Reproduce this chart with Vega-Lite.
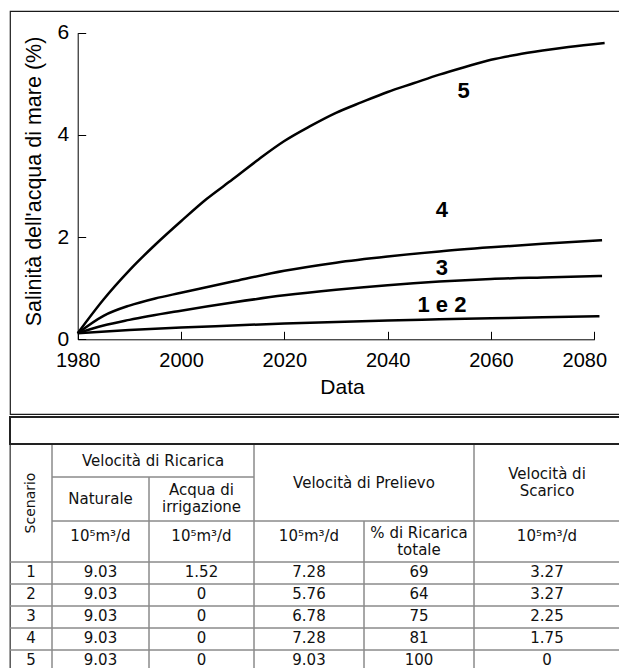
{
  "$schema": "https://vega.github.io/schema/vega-lite/v6.json",
  "padding": {"left": 8, "top": 10, "right": 0, "bottom": 0},
  "spacing": 0,
  "background": "white",
  "config": {
    "view": {"stroke": "#1a1a1a", "strokeWidth": 1.2},
    "font": "Liberation Sans",
    "concat": {"spacing": 0}
  },
  "datasets": {
    "curve": [
      {"scenario": "5", "anno": 1980, "salinita": 0.12},
      {"scenario": "5", "anno": 1985, "salinita": 0.78},
      {"scenario": "5", "anno": 1990, "salinita": 1.35},
      {"scenario": "5", "anno": 1995, "salinita": 1.85},
      {"scenario": "5", "anno": 2000, "salinita": 2.31},
      {"scenario": "5", "anno": 2005, "salinita": 2.75},
      {"scenario": "5", "anno": 2010, "salinita": 3.13},
      {"scenario": "5", "anno": 2015, "salinita": 3.52},
      {"scenario": "5", "anno": 2020, "salinita": 3.88},
      {"scenario": "5", "anno": 2025, "salinita": 4.17},
      {"scenario": "5", "anno": 2030, "salinita": 4.43},
      {"scenario": "5", "anno": 2035, "salinita": 4.64},
      {"scenario": "5", "anno": 2040, "salinita": 4.84},
      {"scenario": "5", "anno": 2045, "salinita": 5.01},
      {"scenario": "5", "anno": 2050, "salinita": 5.18},
      {"scenario": "5", "anno": 2055, "salinita": 5.33},
      {"scenario": "5", "anno": 2060, "salinita": 5.47},
      {"scenario": "5", "anno": 2065, "salinita": 5.57},
      {"scenario": "5", "anno": 2070, "salinita": 5.65},
      {"scenario": "5", "anno": 2075, "salinita": 5.72},
      {"scenario": "5", "anno": 2082, "salinita": 5.8},
      {"scenario": "4", "anno": 1980, "salinita": 0.12},
      {"scenario": "4", "anno": 1985, "salinita": 0.46},
      {"scenario": "4", "anno": 1990, "salinita": 0.66},
      {"scenario": "4", "anno": 1995, "salinita": 0.8},
      {"scenario": "4", "anno": 2000, "salinita": 0.91},
      {"scenario": "4", "anno": 2010, "salinita": 1.13},
      {"scenario": "4", "anno": 2020, "salinita": 1.34},
      {"scenario": "4", "anno": 2030, "salinita": 1.5},
      {"scenario": "4", "anno": 2040, "salinita": 1.62},
      {"scenario": "4", "anno": 2050, "salinita": 1.72},
      {"scenario": "4", "anno": 2060, "salinita": 1.8},
      {"scenario": "4", "anno": 2070, "salinita": 1.87},
      {"scenario": "4", "anno": 2081.5, "salinita": 1.94},
      {"scenario": "3", "anno": 1980, "salinita": 0.12},
      {"scenario": "3", "anno": 1985, "salinita": 0.27},
      {"scenario": "3", "anno": 1990, "salinita": 0.38},
      {"scenario": "3", "anno": 2000, "salinita": 0.56},
      {"scenario": "3", "anno": 2010, "salinita": 0.72},
      {"scenario": "3", "anno": 2020, "salinita": 0.86},
      {"scenario": "3", "anno": 2030, "salinita": 0.97},
      {"scenario": "3", "anno": 2040, "salinita": 1.06},
      {"scenario": "3", "anno": 2050, "salinita": 1.13},
      {"scenario": "3", "anno": 2060, "salinita": 1.18},
      {"scenario": "3", "anno": 2070, "salinita": 1.21},
      {"scenario": "3", "anno": 2081.5, "salinita": 1.24},
      {"scenario": "1 e 2", "anno": 1980, "salinita": 0.12},
      {"scenario": "1 e 2", "anno": 1990, "salinita": 0.18},
      {"scenario": "1 e 2", "anno": 2000, "salinita": 0.23},
      {"scenario": "1 e 2", "anno": 2010, "salinita": 0.27},
      {"scenario": "1 e 2", "anno": 2020, "salinita": 0.31},
      {"scenario": "1 e 2", "anno": 2030, "salinita": 0.34},
      {"scenario": "1 e 2", "anno": 2040, "salinita": 0.37},
      {"scenario": "1 e 2", "anno": 2050, "salinita": 0.39},
      {"scenario": "1 e 2", "anno": 2060, "salinita": 0.41},
      {"scenario": "1 e 2", "anno": 2070, "salinita": 0.43},
      {"scenario": "1 e 2", "anno": 2081, "salinita": 0.45}
    ],
    "etichette": [
      {"testo": "5", "anno": 2054.7, "salinita": 4.86},
      {"testo": "4", "anno": 2050.5, "salinita": 2.54},
      {"testo": "3", "anno": 2050.5, "salinita": 1.4},
      {"testo": "1 e 2", "anno": 2050.5, "salinita": 0.67}
    ],
    "tabella": [
      {"Scenario": 1, "Naturale": 9.03, "Irrigazione": 1.52, "Prelievo": 7.28, "Ricarica_totale": 69, "Scarico": 3.27},
      {"Scenario": 2, "Naturale": 9.03, "Irrigazione": 0, "Prelievo": 5.76, "Ricarica_totale": 64, "Scarico": 3.27},
      {"Scenario": 3, "Naturale": 9.03, "Irrigazione": 0, "Prelievo": 6.78, "Ricarica_totale": 75, "Scarico": 2.25},
      {"Scenario": 4, "Naturale": 9.03, "Irrigazione": 0, "Prelievo": 7.28, "Ricarica_totale": 81, "Scarico": 1.75},
      {"Scenario": 5, "Naturale": 9.03, "Irrigazione": 0, "Prelievo": 9.03, "Ricarica_totale": 100, "Scarico": 0}
    ],
    "colonne": [
      {"campo": "Scenario", "x0": 0, "x1": 42},
      {"campo": "Naturale", "x0": 42, "x1": 139},
      {"campo": "Irrigazione", "x0": 139, "x1": 244},
      {"campo": "Prelievo", "x0": 244, "x1": 354},
      {"campo": "Ricarica_totale", "x0": 354, "x1": 464},
      {"campo": "Scarico", "x0": 464, "x1": 610}
    ],
    "righe": [
      {"Scenario": 1, "y0": 145, "y1": 167},
      {"Scenario": 2, "y0": 167, "y1": 189},
      {"Scenario": 3, "y0": 189, "y1": 211},
      {"Scenario": 4, "y0": 211, "y1": 233},
      {"Scenario": 5, "y0": 233, "y1": 255}
    ],
    "intestazioni": [
      {"testo": "", "tipo": "titolo", "x0": 0, "x1": 610, "y0": 0, "y1": 27},
      {"testo": "Scenario", "tipo": "verticale", "x0": 0, "x1": 42, "y0": 27, "y1": 145},
      {"testo": "Velocità di Ricarica", "tipo": "riga", "x0": 42, "x1": 244, "y0": 27, "y1": 60},
      {"testo": "Naturale", "tipo": "riga", "x0": 42, "x1": 139, "y0": 60, "y1": 104},
      {"testo": "Acqua di\nirrigazione", "tipo": "due righe", "x0": 139, "x1": 244, "y0": 60, "y1": 104},
      {"testo": "10⁵m³/d", "tipo": "unità", "x0": 42, "x1": 139, "y0": 104, "y1": 145},
      {"testo": "10⁵m³/d", "tipo": "unità", "x0": 139, "x1": 244, "y0": 104, "y1": 145},
      {"testo": "Velocità di Prelievo", "tipo": "riga", "x0": 244, "x1": 464, "y0": 27, "y1": 104},
      {"testo": "10⁵m³/d", "tipo": "unità", "x0": 244, "x1": 354, "y0": 104, "y1": 145},
      {"testo": "% di Ricarica\ntotale", "tipo": "due righe", "x0": 354, "x1": 464, "y0": 104, "y1": 145},
      {"testo": "Velocità di\nScarico", "tipo": "due righe", "x0": 464, "x1": 610, "y0": 27, "y1": 104},
      {"testo": "10⁵m³/d", "tipo": "unità", "x0": 464, "x1": 610, "y0": 104, "y1": 145}
    ]
  },
  "vconcat": [
    {
      "width": 610,
      "height": 403,
      "layer": [
        {
          "data": {"name": "curve"},
          "mark": {"type": "line", "color": "black", "strokeWidth": 2.5, "interpolate": "monotone"},
          "encoding": {
            "x": {
              "field": "anno", "type": "quantitative",
              "scale": {"domain": [1980, 2080], "range": [67.7, 584.3], "nice": false, "zero": false},
              "axis": {
                "values": [1980, 2000, 2020, 2040, 2060, 2080],
                "format": "d",
                "offset": -74.7,
                "tickSize": -8,
                "labelPadding": 19.5,
                "grid": false,
                "domainColor": "black",
                "tickColor": "black",
                "labelColor": "black",
                "labelFont": "Liberation Sans",
                "labelFontSize": 20,
                "labelFlush": false,
                "labelOverlap": false,
                "labelOffset": {"condition": {"test": "datum.value === 2080", "value": -10}, "value": 0},
                "title": "Data",
                "titleFont": "Liberation Sans",
                "titleFontSize": 21,
                "titleFontWeight": "normal",
                "titleColor": "black",
                "titleX": 332,
                "titleY": 54,
                "titleAlign": "center",
                "titleBaseline": "alphabetic"
              }
            },
            "y": {
              "field": "salinita", "type": "quantitative",
              "scale": {"domain": [0, 6], "range": [328.3, 21.7], "nice": false},
              "axis": {
                "values": [0, 2, 4, 6],
                "format": "d",
                "offset": -67.7,
                "tickSize": -8,
                "labelPadding": 17,
                "grid": false,
                "domainColor": "black",
                "tickColor": "black",
                "labelColor": "black",
                "labelFont": "Liberation Sans",
                "labelFontSize": 21,
                "labelFlush": false,
                "labelOverlap": false,
                "title": "Salinità dell'acqua di mare (%)",
                "titleFont": "Liberation Sans",
                "titleFontSize": 21.5,
                "titleFontWeight": "normal",
                "titleColor": "black",
                "titleAngle": 270,
                "titleX": -37,
                "titleY": 170,
                "titleAlign": "center",
                "titleBaseline": "alphabetic"
              }
            },
            "detail": {"field": "scenario", "type": "nominal"}
          }
        },
        {
          "data": {"name": "etichette"},
          "mark": {"type": "text", "font": "Liberation Sans", "fontSize": 22, "fontWeight": "bold", "color": "black", "align": "center", "baseline": "middle"},
          "encoding": {
            "x": {"field": "anno", "type": "quantitative"},
            "y": {"field": "salinita", "type": "quantitative"},
            "text": {"field": "testo", "type": "nominal"}
          }
        }
      ]
    },
    {
      "width": 610,
      "height": 256,
      "encoding": {
        "x": {"field": "x0", "type": "quantitative", "scale": {"domain": [0, 610], "nice": false, "zero": false}, "axis": null},
        "x2": {"field": "x1"},
        "y": {"field": "y0", "type": "quantitative", "scale": {"domain": [0, 256], "nice": false, "zero": false, "reverse": true}, "axis": null},
        "y2": {"field": "y1"}
      },
      "layer": [
        {
          "data": {"name": "intestazioni"},
          "transform": [{"filter": "datum.tipo !== 'titolo'"}],
          "mark": {"type": "rect", "fillOpacity": 0, "stroke": "#8a8a8a", "strokeWidth": 1}
        },
        {
          "data": {"name": "tabella"},
          "transform": [
            {"fold": ["Scenario", "Naturale", "Irrigazione", "Prelievo", "Ricarica_totale", "Scarico"], "as": ["campo", "valore"]},
            {"lookup": "campo", "from": {"data": {"name": "colonne"}, "key": "campo", "fields": ["x0", "x1"]}},
            {"lookup": "Scenario", "from": {"data": {"name": "righe"}, "key": "Scenario", "fields": ["y0", "y1"]}}
          ],
          "mark": {"type": "rect", "fillOpacity": 0, "stroke": "#8a8a8a", "strokeWidth": 1}
        },
        {
          "data": {"name": "intestazioni"},
          "transform": [{"filter": "datum.tipo === 'titolo'"}],
          "mark": {"type": "rect", "fillOpacity": 0, "stroke": "#222222", "strokeWidth": 2}
        },
        {
          "data": {"name": "intestazioni"},
          "transform": [
            {"filter": "datum.tipo === 'riga'"},
            {"calculate": "(datum.x0 + datum.x1) / 2", "as": "xc"},
            {"calculate": "(datum.y0 + datum.y1) / 2", "as": "yc"}
          ],
          "mark": {"type": "text", "font": "DejaVu Sans", "fontSize": 15, "color": "#111111", "align": "center", "baseline": "middle"},
          "encoding": {
            "x": {"field": "xc", "type": "quantitative"},
            "y": {"field": "yc", "type": "quantitative"},
            "x2": null,
            "y2": null,
            "text": {"field": "testo", "type": "nominal"}
          }
        },
        {
          "data": {"name": "intestazioni"},
          "transform": [
            {"filter": "datum.tipo === 'unità'"},
            {"calculate": "(datum.x0 + datum.x1) / 2", "as": "xc"},
            {"calculate": "(datum.y0 + datum.y1) / 2", "as": "yc"}
          ],
          "mark": {"type": "text", "font": "DejaVu Sans", "fontSize": 15, "color": "#111111", "align": "center", "baseline": "middle", "dy": -6},
          "encoding": {
            "x": {"field": "xc", "type": "quantitative"},
            "y": {"field": "yc", "type": "quantitative"},
            "x2": null,
            "y2": null,
            "text": {"field": "testo", "type": "nominal"}
          }
        },
        {
          "data": {"name": "intestazioni"},
          "transform": [
            {"filter": "datum.tipo === 'due righe'"},
            {"calculate": "(datum.x0 + datum.x1) / 2", "as": "xc"},
            {"calculate": "(datum.y0 + datum.y1) / 2", "as": "yc"}
          ],
          "mark": {"type": "text", "font": "DejaVu Sans", "fontSize": 15, "color": "#111111", "align": "center", "baseline": "middle", "lineBreak": "\n", "lineHeight": 17, "dy": -9},
          "encoding": {
            "x": {"field": "xc", "type": "quantitative"},
            "y": {"field": "yc", "type": "quantitative"},
            "x2": null,
            "y2": null,
            "text": {"field": "testo", "type": "nominal"}
          }
        },
        {
          "data": {"name": "intestazioni"},
          "transform": [
            {"filter": "datum.tipo === 'verticale'"},
            {"calculate": "(datum.x0 + datum.x1) / 2", "as": "xc"},
            {"calculate": "(datum.y0 + datum.y1) / 2", "as": "yc"}
          ],
          "mark": {"type": "text", "font": "DejaVu Sans", "fontSize": 14, "color": "#111111", "align": "center", "baseline": "middle", "angle": 270},
          "encoding": {
            "x": {"field": "xc", "type": "quantitative"},
            "y": {"field": "yc", "type": "quantitative"},
            "x2": null,
            "y2": null,
            "text": {"field": "testo", "type": "nominal"}
          }
        },
        {
          "data": {"name": "tabella"},
          "transform": [
            {"fold": ["Scenario", "Naturale", "Irrigazione", "Prelievo", "Ricarica_totale", "Scarico"], "as": ["campo", "valore"]},
            {"lookup": "campo", "from": {"data": {"name": "colonne"}, "key": "campo", "fields": ["x0", "x1"]}},
            {"lookup": "Scenario", "from": {"data": {"name": "righe"}, "key": "Scenario", "fields": ["y0", "y1"]}},
            {"calculate": "(datum.x0 + datum.x1) / 2", "as": "xc"},
            {"calculate": "(datum.y0 + datum.y1) / 2", "as": "yc"}
          ],
          "mark": {"type": "text", "font": "DejaVu Sans", "fontSize": 15, "color": "#111111", "align": "center", "baseline": "middle", "dy": -1},
          "encoding": {
            "x": {"field": "xc", "type": "quantitative"},
            "y": {"field": "yc", "type": "quantitative"},
            "x2": null,
            "y2": null,
            "text": {"field": "valore", "type": "nominal"}
          }
        }
      ]
    }
  ]
}
